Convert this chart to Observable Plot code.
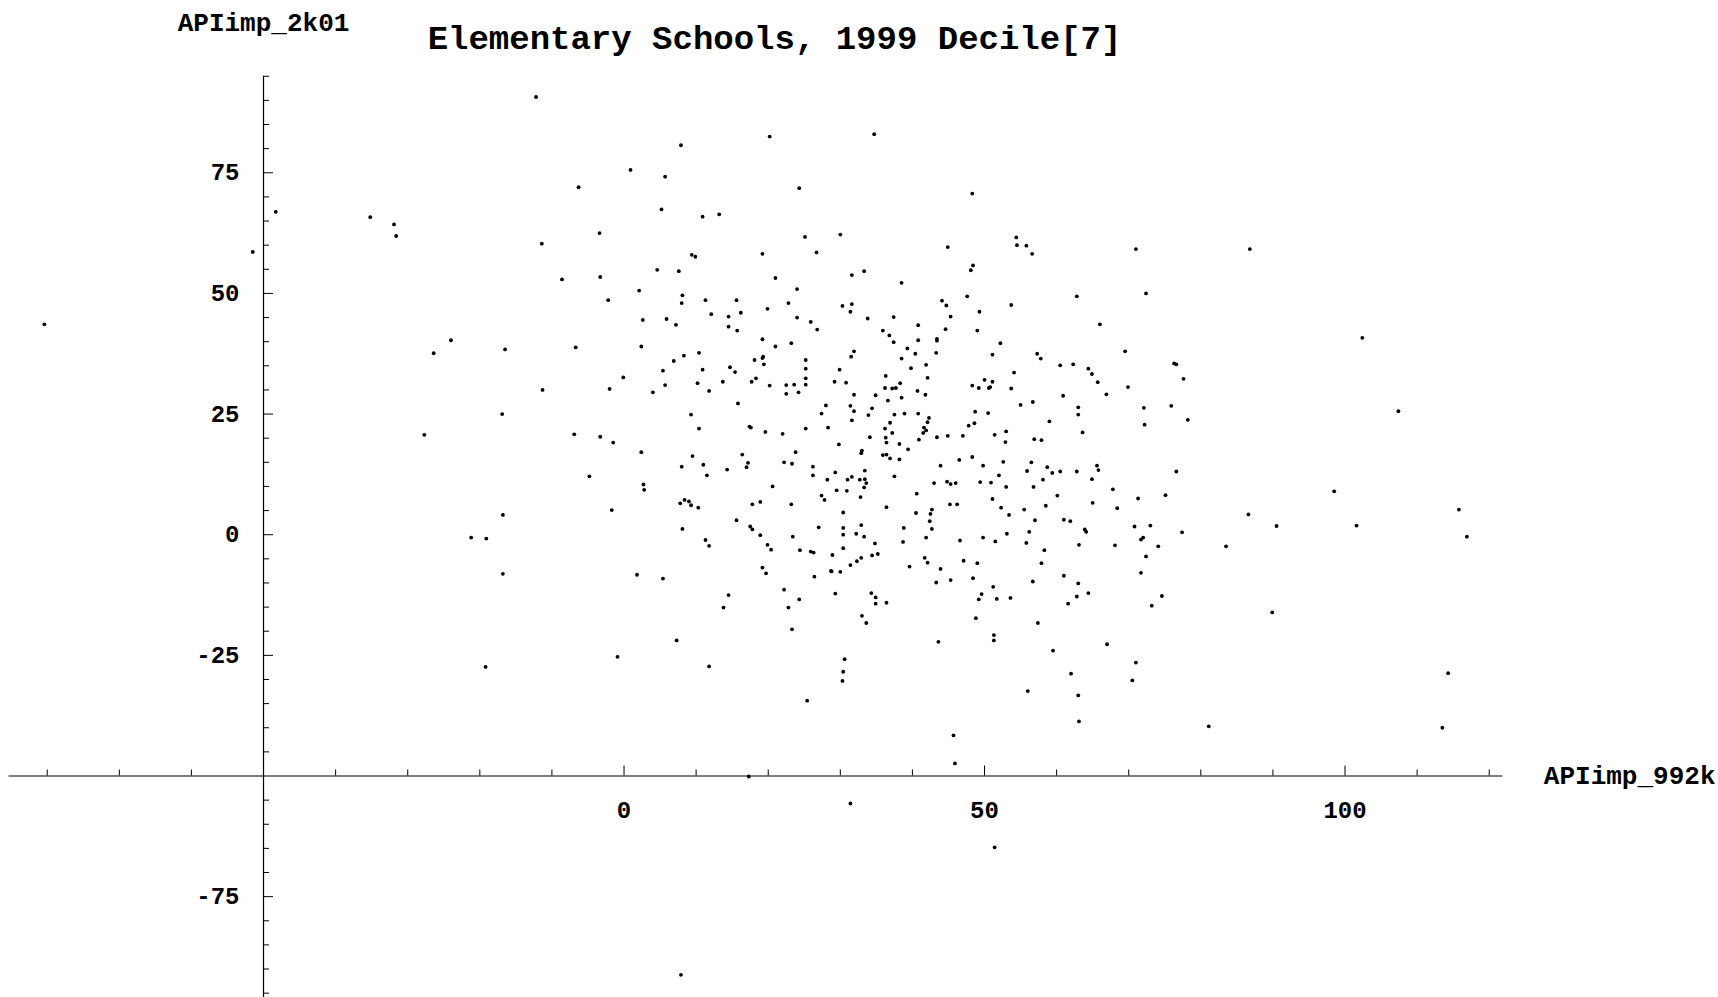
<!DOCTYPE html>
<html><head><meta charset="utf-8">
<script src="https://cdn.jsdelivr.net/npm/d3@7"></script>
<script src="https://cdn.jsdelivr.net/npm/@observablehq/plot@0.6"></script>
<style>
html,body{margin:0;padding:0;background:#fff;}
#chart{position:relative;width:1718px;height:997px;overflow:hidden;}
</style></head><body><div id="chart"></div>
<script>
const title = "Elementary Schools, 1999 Decile[7]";
const xLabel = "APIimp_992k";
const yLabel = "APIimp_2k01";
const xTicks = d3.range(-80, 121, 10).filter(v => v !== -50);
const xTickLabels = [0, 50, 100];
const yTicks = d3.range(-95, 96, 5).filter(v => v !== -50);
const yTickLabels = [-75, -25, 0, 25, 50, 75];
const axisCross = -50;

// APIimp_992k (x) and APIimp_2k01 (y), same order
const apiImp992k = [
  0.9, 5.7, -6.3, 5.2, -3.4, -11.4, 4.6, 7.6, -8.6, -3.3,
  2.1, -2.2, 2.6, 5.9, 7.2, -24.0, -16.5, -6.7, 2.4,
  7.9, 24.3, 10.9, 13.2, 25.1, 30.0, 26.7, 44.9, 9.4, 9.9,
  19.2, 21.0, 24.0, 31.6, 33.3, 38.5, 8.1, 8.0, 11.3, 15.6,
  12.1, 14.5, 16.2, 14.5, 15.7, 19.9, 22.8, 24.0, 25.9, 26.8,
  19.2, 21.0, 23.2, 30.3, 31.6, 31.4, 33.8, 37.4, 35.9, 36.8,
  37.4, 39.3, 40.8, 40.8, 43.4, 43.4, 44.1, 44.7, 45.3, 44.6,
  48.3, 54.4, 54.5, 55.8, 56.6, 71.0, 48.4, 48.1, 47.6, 62.8,
  72.4, 53.7, 49.3, 49.0, 52.2, 66.0,
  -26.4, -11.3, -2.0, -0.1, 5.4, 6.9, 5.7, 4.0, -16.9, -27.7,
  -6.9, -3.3, -1.5, 2.4, -4.8, 2.7, 2.8, 7.8, -1.7, -16.8,
  -21.2, -19.1,
  8.3, 10.4, 18.1, 19.2, 19.3, 19.4, 25.2, 25.2, 25.2, 25.2,
  31.9, 31.5, 29.9, 29.2, 30.8, 10.9, 14.7, 15.4, 10.2, 13.7,
  11.8, 17.7, 18.3, 20.2, 22.5, 23.6, 22.5, 24.2, 15.8, 9.3,
  10.4, 17.4, 17.6, 19.6, 22.0, 25.2, 28.0, 27.4, 28.3, 31.9,
  31.4, 31.9, 31.6, 33.9, 34.4, 34.9, 36.3, 36.2, 37.2, 37.7,
  38.3, 36.6, 38.5, 38.5, 39.8, 40.4, 43.3, 41.9, 42.1, 40.7,
  41.8, 37.5, 38.9, 40.8, 36.9, 36.2, 37.2, 36.3, 36.4, 38.2,
  39.4, 42.3, 42.1, 41.6, 41.9, 41.5, 40.9, 43.4, 44.9, 34.1,
  29.8, 32.9, 33.0, 35.9, 36.4, 36.9, 38.2, 9.5, 8.0, 11.0,
  11.5, 14.3, 16.4, 17.2, 17.0, 22.2, 23.3, 23.8, 26.2, 26.2,
  29.3, 28.2, 31.0, 31.6, 32.7, 33.4, 33.4, 33.6, 33.3, 29.5,
  30.9, 32.8, 27.4, 27.8, 37.5, 43.9, 43.0, 44.8, 45.3, 45.2,
  40.6, 40.5, 42.7, 42.5, 42.4, 42.7, 41.9, 41.7, 36.4, 38.8,
  38.7, 34.8, 35.2, 34.4, 32.9, 32.2, 33.3, 32.9, 30.4, 30.4,
  30.4, 30.4, 28.9, 27.0, 25.9, 26.3, 24.4, 23.4, 23.2, 20.6,
  18.9, 17.8, 15.6, 17.5, 17.8, 18.9, 19.9, 20.4, 8.1, 8.4,
  9.0, 9.3, 10.3, 11.3, 11.8,
  51.1, 57.3, 57.8, 69.5, 76.3, 76.6, 77.6, 60.5, 62.3, 64.4,
  64.9, 65.7, 66.9, 69.9, 54.1, 48.3, 49.2, 50.0, 51.1, 50.6,
  50.8, 53.7, 60.9, 55.0, 56.7, 48.7, 50.5, 63.0, 63.0, 72.1,
  75.9, 72.2, 78.2, 47.8, 48.6, 47.0, 51.4, 53.0, 52.9, 56.9,
  57.9, 59.0, 63.6, 46.5, 48.3, 49.8, 52.6, 52.0, 56.5, 55.9,
  58.7, 59.4, 60.5, 62.8, 65.6, 65.8, 64.9, 58.1, 56.8, 53.0,
  49.4, 50.9, 46.0, 46.2, 51.1, 52.3, 53.4, 55.5, 58.5, 60.1,
  57.0, 61.0, 61.9, 65.0, 67.8, 68.4, 71.3, 75.1, 76.6, 70.8,
  73.0, 71.7, 72.0, 46.6, 49.8, 51.5, 53.1, 56.2, 55.8, 58.3,
  63.1, 63.9, 64.1, 68.1, 74.1, 72.4, 77.4,
  -16.8, 1.8, 5.4, 7.3, -0.9, -19.2,
  19.2, 19.7, 14.5, 13.8, 22.2, 22.8, 24.3, 23.3, 26.4, 28.7,
  28.8, 30.0, 31.4, 32.3, 29.3, 34.3, 34.9, 34.9, 36.4, 33.0,
  33.6, 30.6, 30.4, 30.3, 25.4, 11.8, 39.6, 42.1, 43.9, 43.3,
  45.3, 43.6,
  47.1, 49.0, 57.9, 48.4, 51.2, 49.6, 49.2, 51.7, 53.6, 56.7,
  61.0, 63.0, 62.8, 61.6, 64.4, 71.7, 74.6, 73.2, 48.8, 57.4,
  51.3, 51.3, 59.5, 67.0, 71.0, 70.5, 62.0, 56.0, 63.0, 63.1,
  45.7, 45.9, 81.1,
  102.4, 107.4, 98.5, 86.6, 90.5, 83.5, 101.6, 115.8, 116.9, 89.9,
  114.3, 113.5,
  -80.4, -51.5, -48.3, -35.2, -31.9, -31.6, -12.2, 20.2, 34.7, 86.8,
  17.3, 31.4, 51.4, 7.9
];
const apiImp2k01 = [
  75.6, 74.2, 72.0, 67.4, 62.5, 60.3, 54.9, 54.6, 52.9, 53.4,
  50.6, 48.6, 44.5, 44.7, 43.5, 40.3, 38.4, 38.8, 39.0,
  80.7, 71.8, 65.9, 66.4, 61.7, 62.2, 58.5, 59.6, 58.0, 57.6,
  58.2, 53.2, 50.9, 53.8, 54.6, 52.2, 49.6, 48.0, 48.6, 48.6,
  45.7, 45.2, 46.0, 43.1, 42.3, 46.8, 48.0, 45.0, 44.1, 42.5,
  40.5, 39.0, 39.7, 47.4, 47.8, 46.2, 44.8, 45.1, 42.3, 41.3,
  39.9, 38.6, 43.4, 40.3, 40.6, 40.2, 48.5, 47.5, 45.2, 42.6,
  70.7, 61.6, 60.0, 59.9, 58.2, 59.2, 55.8, 54.8, 49.4, 49.4,
  50.0, 47.6, 46.2, 42.3, 39.7, 43.6,
  37.6, 30.0, 30.2, 32.6, 34.0, 36.0, 31.0, 29.5, 25.0, 20.7,
  20.8, 20.3, 19.1, 17.1, 12.1, 10.4, 9.3, 6.5, 5.1, 4.1,
  -0.6, -0.8,
  37.1, 37.7, 36.2, 36.6, 36.9, 35.3, 36.2, 34.4, 32.4, 31.1,
  38.0, 36.9, 34.2, 31.7, 31.5, 34.2, 34.7, 33.7, 31.4, 31.7,
  29.8, 31.7, 32.4, 30.9, 31.0, 31.1, 29.2, 29.5, 27.2, 24.9,
  22.0, 22.4, 22.2, 21.3, 20.9, 22.0, 26.8, 25.1, 22.2, 29.0,
  26.7, 25.6, 23.7, 24.8, 26.2, 28.9, 32.9, 30.4, 30.3, 30.4,
  31.4, 27.8, 28.4, 36.5, 34.5, 37.5, 37.7, 35.2, 32.5, 29.8,
  29.0, 24.9, 25.1, 25.1, 23.2, 22.0, 21.1, 20.1, 19.1, 18.8,
  17.7, 24.2, 23.3, 22.2, 21.6, 21.1, 19.7, 20.2, 20.5, 20.2,
  18.7, 16.9, 17.4, 16.5, 16.6, 15.8, 15.6, 16.3, 14.1, 14.5,
  12.3, 13.5, 16.6, 14.9, 14.0, 15.0, 14.7, 17.1, 14.1, 12.3,
  12.9, 11.4, 11.4, 12.0, 11.4, 13.3, 11.5, 10.7, 9.8, 9.2,
  9.1, 7.8, 8.1, 7.2, 12.1, 14.3, 10.7, 11.0, 10.5, 6.3,
  8.5, 4.5, 5.2, 4.3, 2.8, 1.2, -0.6, -4.8, 5.7, 1.4,
  -1.5, -1.8, -4.0, -4.3, 2.0, 0.2, -0.4, -4.8, 4.6, 1.4,
  0.0, -2.8, -4.2, 1.5, -3.5, -3.7, -3.2, -0.4, 6.3, 10.0,
  6.8, 6.3, 3.0, 1.7, 1.1, -0.1, -2.1, -3.1, 1.2, 7.2,
  6.9, 6.1, 5.6, -1.1, -2.3,
  37.3, 37.5, 36.5, 38.0, 35.5, 35.3, 32.3, 35.1, 35.3, 34.4,
  33.3, 31.6, 29.1, 30.6, 33.6, 30.9, 30.4, 32.1, 31.7, 30.4,
  30.6, 30.3, 28.8, 26.9, 27.5, 25.5, 25.2, 26.4, 24.9, 26.3,
  26.7, 22.8, 23.8, 22.6, 23.1, 20.5, 20.7, 21.4, 19.2, 19.8,
  19.6, 23.5, 21.2, 15.5, 16.1, 14.3, 15.1, 12.3, 15.0, 13.2,
  14.0, 12.8, 13.1, 13.1, 14.3, 13.4, 11.5, 11.4, 9.9, 9.9,
  10.9, 10.8, 10.7, 6.3, 7.4, 5.6, 4.1, 5.2, 6.0, 8.1,
  3.0, 3.1, 2.8, 6.6, 9.4, 5.5, 7.5, 8.2, 13.1, 1.7,
  1.9, -1.0, -0.6, -1.2, -0.6, -1.4, 0.2, 0.6, -1.7, -3.2,
  -2.1, 1.1, 0.6, -2.2, -2.4, -4.5, 0.5,
  -8.1, -8.3, -9.1, -21.9, -25.3, -27.4,
  -6.8, -8.0, -12.5, -15.1, -11.4, -15.1, -13.4, -19.6, -8.7, -7.5,
  -7.6, -7.7, -6.3, -5.5, -12.2, -12.1, -13.0, -14.3, -14.1, -16.8,
  -18.3, -25.8, -28.4, -30.3, -34.4, -27.3, -6.6, -5.8, -7.1, -9.9,
  -9.4, -22.2,
  -5.4, -5.9, -5.9, -9.0, -10.8, -12.3, -13.4, -13.3, -13.1, -9.7,
  -8.5, -10.1, -12.8, -14.3, -12.1, -7.9, -12.7, -14.7, -17.3, -18.3,
  -20.8, -21.9, -24.0, -22.7, -26.5, -30.2, -28.8, -32.4, -33.3, -38.7,
  -41.6, -47.4, -39.7,
  40.8, 25.6, 9.0, 4.2, 1.8, -2.4, 1.9, 5.2, -0.4, -16.1,
  -28.7, -40.0,
  43.6, 58.6, 66.9, 65.8, 64.3, 61.9, 90.7, 82.5, 83.0, 59.2,
  -50.1, -55.7, -64.8, -91.2
];

const W = 1718, H = 997;
const xDomain = [-86.48, 151.8];
const yDomain = [-95.9, 110.7];
const xAxisExtent = [-85.3, 121.9];
const yAxisTop = 95;
const pxPerX = W / (xDomain[1] - xDomain[0]);
const pxPerY = H / (yDomain[1] - yDomain[0]);
const font = "'Liberation Mono', 'Courier New', monospace";
const majorLen = 10, minorLen = 6;

const n = Math.min(apiImp992k.length, apiImp2k01.length);
if (apiImp992k.length !== apiImp2k01.length) console.error("length mismatch", apiImp992k.length, apiImp2k01.length);
const schools = d3.range(n).map(i => ({x: apiImp992k[i], y: apiImp2k01[i]}));

const plot = Plot.plot({
  width: W, height: H,
  marginTop: 0, marginRight: 0, marginBottom: 0, marginLeft: 0,
  x: {domain: xDomain, axis: null},
  y: {domain: yDomain, axis: null},
  style: {background: "#fff", fontFamily: font, color: "#000"},
  marks: [
    Plot.ruleY([axisCross], {x1: xAxisExtent[0], x2: xAxisExtent[1], stroke: "#000", strokeWidth: 1.2}),
    Plot.ruleX([axisCross], {y1: yDomain[0], y2: yAxisTop, stroke: "#000", strokeWidth: 1.2}),
    Plot.ruleX(xTicks, {x: d => d, y1: axisCross, y2: d => axisCross + (d % 50 === 0 ? majorLen : minorLen) / pxPerY, stroke: "#000", strokeWidth: 1}),
    Plot.ruleY(yTicks, {y: d => d, x1: axisCross, x2: d => axisCross + (d % 25 === 0 ? majorLen : minorLen) / pxPerX, stroke: "#000", strokeWidth: 1}),
    Plot.text(xTickLabels, {x: d => d, y: axisCross, dy: 34, text: d => String(d), fontSize: 24, fontWeight: "bold", fill: "#000"}),
    Plot.text(yTickLabels, {x: axisCross, y: d => d, dx: -24, textAnchor: "end", text: d => String(d), fontSize: 24, fontWeight: "bold", fill: "#000"}),
    Plot.text([xLabel], {y: axisCross, frameAnchor: "right", textAnchor: "end", lineAnchor: "middle", dx: -3, text: d => d, fontSize: 26, fontWeight: "bold", fill: "#000"}),
    Plot.text([yLabel], {x: axisCross, frameAnchor: "top", lineAnchor: "middle", dy: 22, text: d => d, fontSize: 26, fontWeight: "bold", fill: "#000"}),
    Plot.text([title], {frameAnchor: "top", lineAnchor: "middle", dx: -85, dy: 38, text: d => d, fontSize: 34, fontWeight: "bold", fill: "#000"}),
    Plot.dot(schools, {x: "x", y: "y", r: 1.9, fill: "#000", stroke: null})
  ]
});
document.getElementById("chart").appendChild(plot);
</script>
</body></html>
